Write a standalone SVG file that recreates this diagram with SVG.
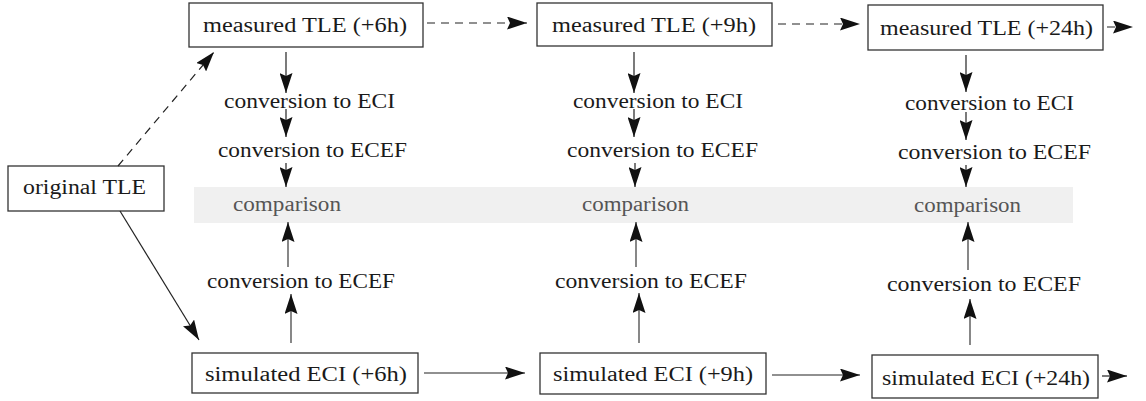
<svg xmlns="http://www.w3.org/2000/svg" width="1146" height="401" viewBox="0 0 1146 401">
<style>
text{font-family:"Liberation Serif","Times New Roman",serif;font-size:20.5px;fill:#1a1a1a}
.box{fill:#fff;stroke:#333;stroke-width:1.3}
.band{fill:#f0f0f0}
.cmp{fill:#555}
.c{fill:none;stroke:#222;stroke-width:1.2}
.g{stroke:#555;stroke-width:1.4}
.d{stroke-dasharray:8 6}
</style>
<defs>
<marker id="ah" markerUnits="userSpaceOnUse" markerWidth="20" markerHeight="13" refX="20" refY="6.5" orient="auto">
<path d="M0,0 L20,6.5 L0,13 L3,6.5 Z" fill="#111"/>
</marker>
</defs>
<rect class="band" x="194" y="187" width="879" height="36"/>
<g id="original"><rect class="box" x="8" y="166" width="156" height="45"/><text x="23" y="194" textLength="123" lengthAdjust="spacingAndGlyphs">original TLE</text></g>
<g id="m6"><rect class="box" x="189" y="3" width="234" height="44"/><text x="203" y="32" textLength="204" lengthAdjust="spacingAndGlyphs">measured TLE (+6h)</text></g>
<g id="m9"><rect class="box" x="537" y="3" width="235" height="43"/><text x="552" y="32" textLength="204" lengthAdjust="spacingAndGlyphs">measured TLE (+9h)</text></g>
<g id="m24"><rect class="box" x="868" y="5" width="235" height="45"/><text x="880" y="35" textLength="213" lengthAdjust="spacingAndGlyphs">measured TLE (+24h)</text></g>
<g id="eci6"><text x="224" y="108" textLength="171" lengthAdjust="spacingAndGlyphs">conversion to ECI</text></g>
<g id="ecef6"><text x="218" y="157" textLength="189" lengthAdjust="spacingAndGlyphs">conversion to ECEF</text></g>
<g id="cmp6"><text class="cmp" x="233" y="211" textLength="108" lengthAdjust="spacingAndGlyphs">comparison</text></g>
<g id="secef6"><text x="207" y="288" textLength="188" lengthAdjust="spacingAndGlyphs">conversion to ECEF</text></g>
<g id="s6"><rect class="box" x="192" y="353" width="226" height="40"/><text x="205" y="381" textLength="202" lengthAdjust="spacingAndGlyphs">simulated ECI (+6h)</text></g>
<g id="eci9"><text x="573" y="108" textLength="170" lengthAdjust="spacingAndGlyphs">conversion to ECI</text></g>
<g id="ecef9"><text x="567" y="157" textLength="191" lengthAdjust="spacingAndGlyphs">conversion to ECEF</text></g>
<g id="cmp9"><text class="cmp" x="582" y="211" textLength="107" lengthAdjust="spacingAndGlyphs">comparison</text></g>
<g id="secef9"><text x="555" y="288" textLength="192" lengthAdjust="spacingAndGlyphs">conversion to ECEF</text></g>
<g id="s9"><rect class="box" x="540" y="353" width="226" height="41"/><text x="553" y="381" textLength="200" lengthAdjust="spacingAndGlyphs">simulated ECI (+9h)</text></g>
<g id="eci24"><text x="905" y="110" textLength="169" lengthAdjust="spacingAndGlyphs">conversion to ECI</text></g>
<g id="ecef24"><text x="898" y="159" textLength="193" lengthAdjust="spacingAndGlyphs">conversion to ECEF</text></g>
<g id="cmp24"><text class="cmp" x="914" y="212" textLength="107" lengthAdjust="spacingAndGlyphs">comparison</text></g>
<g id="secef24"><text x="887" y="291" textLength="194" lengthAdjust="spacingAndGlyphs">conversion to ECEF</text></g>
<g id="s24"><rect class="box" x="872" y="355" width="226" height="43"/><text x="882" y="385" textLength="208" lengthAdjust="spacingAndGlyphs">simulated ECI (+24h)</text></g>
<g id="connectors">
<line class="c d" x1="118" y1="166" x2="214" y2="52" marker-end="url(#ah)"/>
<line class="c" x1="120" y1="211" x2="199" y2="340" marker-end="url(#ah)"/>
<line class="c d" x1="427" y1="23" x2="527" y2="23" marker-end="url(#ah)"/>
<line class="c d" x1="778" y1="24" x2="860" y2="24" marker-end="url(#ah)"/>
<line class="c d" x1="1107" y1="27" x2="1133" y2="27" marker-end="url(#ah)"/>
<line class="c" x1="424" y1="373" x2="525" y2="373" marker-end="url(#ah)"/>
<line class="c" x1="772" y1="375" x2="860" y2="375" marker-end="url(#ah)"/>
<line class="c" x1="1102" y1="376" x2="1127" y2="376" marker-end="url(#ah)"/>
<line class="c" x1="286" y1="52" x2="286" y2="93" marker-end="url(#ah)"/>
<line class="c" x1="286" y1="109" x2="286" y2="137" marker-end="url(#ah)"/>
<line class="c" x1="286" y1="163" x2="286" y2="187" marker-end="url(#ah)"/>
<line class="c g" x1="288" y1="267" x2="288" y2="222" marker-end="url(#ah)"/>
<line class="c g" x1="291" y1="343" x2="291" y2="294" marker-end="url(#ah)"/>
<line class="c" x1="634" y1="52" x2="634" y2="93" marker-end="url(#ah)"/>
<line class="c" x1="634" y1="109" x2="634" y2="137" marker-end="url(#ah)"/>
<line class="c" x1="635" y1="163" x2="635" y2="187" marker-end="url(#ah)"/>
<line class="c g" x1="636" y1="267" x2="636" y2="222" marker-end="url(#ah)"/>
<line class="c g" x1="639" y1="343" x2="639" y2="293" marker-end="url(#ah)"/>
<line class="c" x1="966" y1="55" x2="966" y2="92" marker-end="url(#ah)"/>
<line class="c" x1="966" y1="112" x2="966" y2="140" marker-end="url(#ah)"/>
<line class="c" x1="966" y1="165" x2="966" y2="187" marker-end="url(#ah)"/>
<line class="c g" x1="968" y1="270" x2="968" y2="222" marker-end="url(#ah)"/>
<line class="c g" x1="970" y1="345" x2="970" y2="299" marker-end="url(#ah)"/>
</g>
</svg>
